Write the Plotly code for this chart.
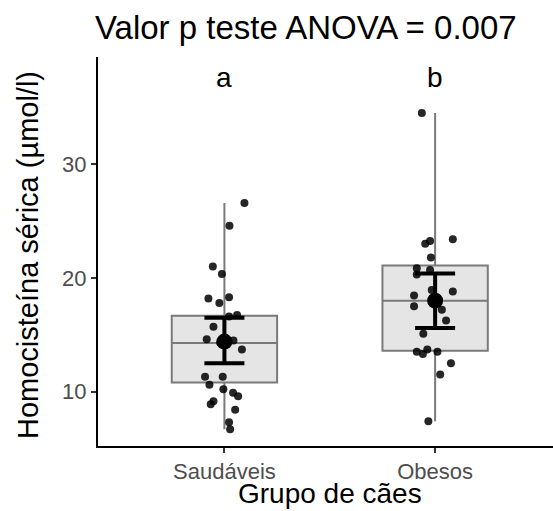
import plotly.graph_objects as go

groups = ["Saudáveis", "Obesos"]
letters = ["a", "b"]

# individual observations (µmol/l) and horizontal jitter (category units)
saud_vals = [26.6, 24.6, 21.0, 20.35, 18.2, 17.8, 18.3, 16.75, 16.6, 15.7, 14.6, 14.5, 14.3,
             13.7, 11.3, 10.6, 11.3, 10.2, 9.9, 9.6, 9.15, 8.9, 8.4, 7.3, 6.7]
saud_jit = [0.095, 0.024, -0.055, -0.012, -0.076, -0.024, 0.022, 0.060, 0.022, -0.052, -0.084, 0.043, -0.02,
            0.083, -0.092, -0.071, -0.008, -0.005, 0.041, 0.065, -0.052, -0.065, 0.051, 0.022, 0.027]
obes_vals = [34.5, 23.25, 23.0, 23.4, 21.8, 20.85, 20.3, 20.7, 18.95, 18.8, 18.45, 17.5, 17.2,
             16.25, 15.1, 13.5, 13.3, 13.7, 13.5, 12.5, 11.5, 7.4]
obes_jit = [-0.063, -0.024, -0.047, 0.084, -0.020, -0.087, -0.087, -0.024, -0.016, 0.084, -0.100, -0.100, 0.032,
            0.052, -0.056, -0.087, -0.058, -0.037, 0.011, 0.075, 0.024, -0.032]

# box statistics
q1 = [10.8, 13.6]
median = [14.27, 18.0]
q3 = [16.67, 21.1]
lower = [6.7, 7.4]
upper = [26.6, 34.5]

# mean and confidence interval
means = [14.4, 18.0]
ci_low = [12.5, 15.6]
ci_high = [16.5, 20.4]

letter_y = 37.6

xpos = [1, 2]

fig = go.Figure()

fig.add_trace(go.Box(
    x=xpos, q1=q1, median=median, q3=q3, lowerfence=lower, upperfence=upper,
    width=0.5, whiskerwidth=0, fillcolor="#E5E5E5",
    line=dict(color="#7A7A7A", width=2), boxpoints=False, showlegend=False,
    hoverinfo="skip"
))

for i, (vals, jit) in enumerate([(saud_vals, saud_jit), (obes_vals, obes_jit)]):
    fig.add_trace(go.Scatter(
        x=[xpos[i] + j for j in jit], y=vals, mode="markers",
        marker=dict(color="black", size=8, opacity=0.85),
        showlegend=False
    ))

fig.add_trace(go.Scatter(
    x=xpos, y=means, mode="markers",
    marker=dict(color="black", size=16),
    error_y=dict(type="data", symmetric=False,
                 array=[h - m for h, m in zip(ci_high, means)],
                 arrayminus=[m - l for m, l in zip(means, ci_low)],
                 color="black", thickness=4, width=20),
    showlegend=False
))

for x, t in zip(xpos, letters):
    fig.add_annotation(x=x, y=letter_y, text=t, showarrow=False,
                       font=dict(size=28, color="black"), xanchor="center", yanchor="middle")

font_family = "Liberation Sans, Arial, sans-serif"

fig.add_annotation(xref="paper", yref="paper", x=(330 - 98) / 455, y=(446 - 493) / 389,
                   text="Grupo de cães", showarrow=False, xanchor="center", yanchor="middle",
                   font=dict(size=28, color="black"))
fig.add_annotation(xref="paper", yref="paper", x=(28 - 98) / 455, y=(446 - 255) / 389,
                   text="Homocisteína sérica (µmol/l)", showarrow=False, textangle=-90,
                   xanchor="center", yanchor="middle", font=dict(size=29, color="black"))

fig.update_layout(
    width=553, height=511,
    margin=dict(l=98, r=0, t=57, b=65),
    paper_bgcolor="white", plot_bgcolor="white",
    font=dict(family=font_family),
    title=dict(text="Valor p teste ANOVA = 0.007", x=95 / 553, xanchor="left", xref="container",
               y=1 - 27 / 511, yanchor="middle", yref="container",
               font=dict(size=33, color="black")),
    xaxis=dict(range=[0.4, 0.4 + 455 / 210.7], tickvals=xpos, ticktext=groups,
               showline=True, linecolor="black", linewidth=2, mirror=False,
               ticks="outside", ticklen=5, tickwidth=2, tickcolor="#333333",
               tickfont=dict(size=22, color="#4D4D4D"), showgrid=False, zeroline=False),
    yaxis=dict(range=[5.22, 39.43], tickvals=[10, 20, 30],
               showline=True, linecolor="black", linewidth=2,
               ticks="outside", ticklen=5, tickwidth=2, tickcolor="#333333",
               tickfont=dict(size=22, color="#4D4D4D"), showgrid=False, zeroline=False),
)

fig.write_html("out.html")
